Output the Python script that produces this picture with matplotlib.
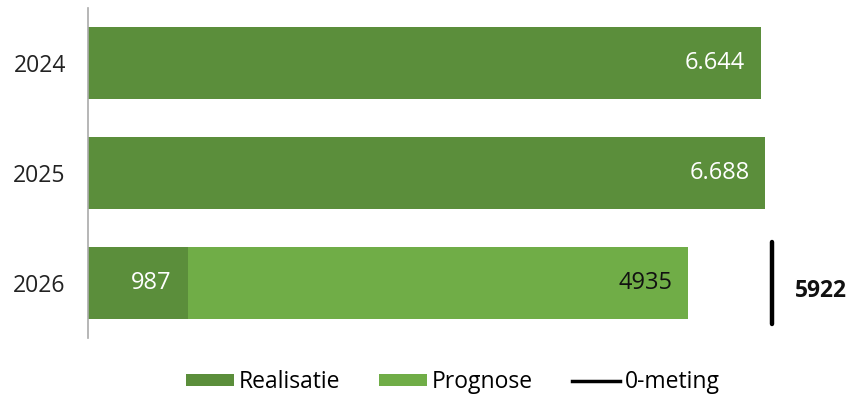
import matplotlib
matplotlib.use("Agg")
import matplotlib.pyplot as plt
from matplotlib.lines import Line2D
from matplotlib.patches import Patch

plt.rcParams['font.family'] = ['Open Sans', 'DejaVu Sans']

# Data
years = ["2024", "2025", "2026"]
realisatie = [6644, 6688, 987]
prognose = [0, 0, 4935]
nulmeting_year = "2026"
nulmeting_x = 6750

dark_green = "#5B8E3B"
light_green = "#70AD47"

fig = plt.figure(figsize=(8.51, 3.96), dpi=100)
ax = fig.add_axes([88 / 851, 58 / 396, 1 - 88 / 851, 330 / 396])

pos = list(range(len(years)))
bar_h = 0.66
ax.barh(pos, realisatie, height=bar_h, color=dark_green, label="Realisatie")
ax.barh(pos, prognose, left=realisatie, height=bar_h, color=light_green, label="Prognose")

ax.set_xlim(0, 7533)
ax.set_ylim(2.5, -0.5)
ax.set_yticks(pos)
ax.set_yticklabels(years, fontsize=16.5, color="#222222")
ax.tick_params(axis="y", length=0, pad=16)
ax.set_xticks([])
for s in ["top", "right", "bottom"]:
    ax.spines[s].set_visible(False)
ax.spines["left"].set_color("#AAAAAA")
ax.spines["left"].set_linewidth(1.2)


def fmt(v):
    return f"{v:,}".replace(",", ".")


# Value labels
for i, (r, p) in enumerate(zip(realisatie, prognose)):
    if p == 0:
        ax.text(r - 155, i, fmt(r), ha="right", va="center", color="white", fontsize=17)
    else:
        ax.text(r - 165, i, f"{r}", ha="right", va="center", color="white", fontsize=17)
        ax.text(r + p - 155, i, f"{p}", ha="right", va="center", color="#111111", fontsize=17)

# 0-meting marker with total
yi = years.index(nulmeting_year)
ax.plot([nulmeting_x, nulmeting_x], [yi - 0.375, yi + 0.375], color="black",
        linewidth=3.2, solid_capstyle="round")
total = realisatie[yi] + prognose[yi]
ax.text(nulmeting_x + 230, yi + 0.07, f"{total}", ha="left", va="center",
        fontsize=16.5, fontweight="bold", color="#111111")

handles = [
    Patch(facecolor=dark_green, label="Realisatie"),
    Patch(facecolor=light_green, label="Prognose"),
    Line2D([0], [0], color="black", linewidth=2.5, label="0-meting"),
]
fig.legend(handles=handles, loc="center", bbox_to_anchor=(453 / 851, 1 - 382 / 396),
           ncol=3, frameon=False, fontsize=16.5, handlelength=2.1, handleheight=0.4,
           handletextpad=0.2, columnspacing=1.7)

fig.savefig("out.png", dpi=100)
